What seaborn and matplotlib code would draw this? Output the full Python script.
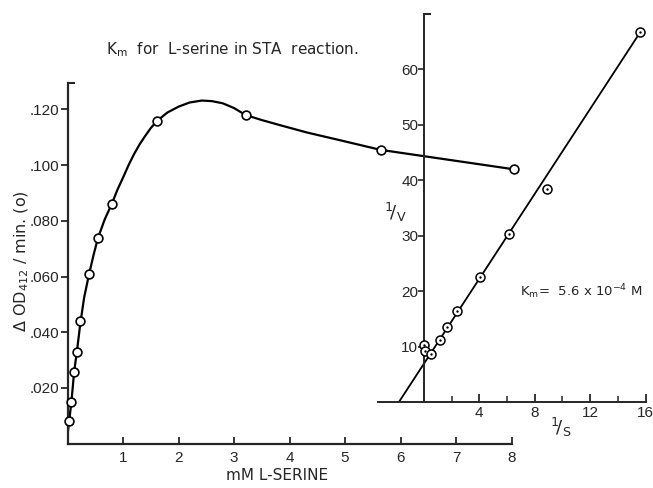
import matplotlib
matplotlib.use("Agg")
import matplotlib.pyplot as plt
import seaborn as sns
import pandas as pd

# ---- data ----
# main plot: substrate (mM L-serine) vs rate (dOD412/min)
serine_mM = [0.03, 0.07, 0.12, 0.17, 0.23, 0.39, 0.55, 0.80, 1.62, 3.21, 5.64, 8.05]
rate = [0.0082, 0.0149, 0.0259, 0.0330, 0.0442, 0.0610, 0.0739, 0.0862, 0.1160, 0.1180, 0.1055, 0.0985]

# hand-drawn smooth curve
curve_x = [0.0, 0.03, 0.07, 0.12, 0.17, 0.23, 0.30, 0.39, 0.47, 0.55, 0.67, 0.80, 0.90, 1.00, 1.10,
           1.20, 1.30, 1.40, 1.50, 1.62, 1.80, 2.00, 2.20, 2.42, 2.60, 2.80, 3.00, 3.21, 3.50, 3.84,
           4.32, 4.90, 5.64, 8.05]
curve_y = [0.0030, 0.0082, 0.0149, 0.0259, 0.0332, 0.0430, 0.0525, 0.0610, 0.0678, 0.0739, 0.0805,
           0.0862, 0.0912, 0.0955, 0.1000, 0.1040, 0.1075, 0.1105, 0.1133, 0.1160, 0.1189, 0.1210,
           0.1225, 0.1232, 0.1230, 0.1222, 0.1205, 0.1180, 0.1162, 0.1143, 0.1117, 0.1090, 0.1055,
           0.0985]

# Lineweaver-Burk inset: 1/S vs 1/V
inv_s = [0.0, 0.1, 0.5, 1.16, 1.68, 2.43, 4.07, 6.15, 8.9, 15.6]
inv_v = [10.3, 9.3, 8.7, 11.3, 13.5, 16.4, 22.6, 30.3, 38.5, 66.7]
fit_x = [-1.8, 15.6]
fit_y = [0.0, 66.7]

main_xticks = [1, 2, 3, 4, 5, 6, 7, 8]
main_yticks = [0.020, 0.040, 0.060, 0.080, 0.100, 0.120]
main_ylabels = [".020", ".040", ".060", ".080", ".100", ".120"]
inset_xticks = [4, 8, 12, 16]
inset_xminor = [2, 6, 10, 14]
inset_yticks = [10, 20, 30, 40, 50, 60]

sns.set_style("ticks")
FONT = "Liberation Sans"
WIDE = "DejaVu Sans"
plt.rcParams["font.family"] = [FONT, "DejaVu Sans"]
plt.rcParams["mathtext.fontset"] = "custom"
plt.rcParams["mathtext.rm"] = WIDE
plt.rcParams["mathtext.it"] = WIDE
plt.rcParams["mathtext.sf"] = WIDE

W, H = 653, 488
fig = plt.figure(figsize=(W / 100, H / 100), dpi=100)
fig.patch.set_facecolor("white")

# main axes
ax = fig.add_axes([67.5 / W, (H - 443.7) / H, (511.5 - 67.5) / W, (443.7 - 83) / H])
ax.set_facecolor("none")
df_curve = pd.DataFrame({"x": curve_x, "y": curve_y})
sns.lineplot(data=df_curve, x="x", y="y", sort=False, color="black", linewidth=1.6, ax=ax)
df_pts = pd.DataFrame({"x": serine_mM, "y": rate})
sns.scatterplot(data=df_pts, x="x", y="y", s=40, facecolor="white", edgecolor="black",
                linewidth=1.2, ax=ax, zorder=5, clip_on=False)
ax.set_xlim(0, 8)
ax.set_ylim(0, 0.1295)
ax.set_xticks(main_xticks)
ax.set_xticklabels([str(t) for t in main_xticks])
ax.set_yticks(main_yticks)
ax.set_yticklabels(main_ylabels)
ax.set_yticks([0.1295], minor=True)
ax.tick_params(axis="x", direction="in", length=5, width=1.3, pad=5, labelsize=11)
ax.tick_params(axis="y", direction="out", length=5, width=1.3, pad=1, labelsize=11)
ax.tick_params(axis="y", which="minor", direction="in", length=5, width=1.5)
ax.set_xlabel("")
ax.set_ylabel("")
for s in ["top", "right"]:
    ax.spines[s].set_visible(False)
for s in ["left", "bottom"]:
    ax.spines[s].set_linewidth(1.6)

# inset axes (Lineweaver-Burk)
ai = fig.add_axes([378 / W, (H - 402.2) / H, (645.7 - 378) / W, (402.2 - 14) / H])
ai.set_facecolor("none")
df_fit = pd.DataFrame({"x": fit_x, "y": fit_y})
sns.lineplot(data=df_fit, x="x", y="y", color="black", linewidth=1.3, ax=ai)
df_lb = pd.DataFrame({"x": inv_s, "y": inv_v})
sns.scatterplot(data=df_lb, x="x", y="y", s=42, facecolor="white", edgecolor="black",
                linewidth=1.1, ax=ai, zorder=5, clip_on=False)
sns.scatterplot(data=df_lb, x="x", y="y", s=3, color="black", linewidth=0, ax=ai, zorder=6,
                clip_on=False)
ai.set_xlim(-3.3, 16)
ai.set_ylim(0, 70)
ai.spines["left"].set_position(("data", 0))
ai.spines["top"].set_visible(False)
ai.spines["right"].set_visible(False)
ai.spines["left"].set_linewidth(1.4)
ai.spines["bottom"].set_linewidth(1.4)
ai.set_xticks(inset_xticks)
ai.set_xticklabels([str(t) for t in inset_xticks])
ai.set_xticks(inset_xminor, minor=True)
ai.set_yticks(inset_yticks)
ai.set_yticklabels([str(t) for t in inset_yticks])
ai.set_yticks([70], minor=True)
ai.tick_params(axis="x", which="major", direction="in", length=6, width=1.3, pad=3, labelsize=11)
ai.tick_params(axis="x", which="minor", direction="in", length=4, width=1.1)
ai.tick_params(axis="y", which="major", direction="out", length=4, width=1.2, pad=0, labelsize=11)
ai.tick_params(axis="y", which="minor", direction="in", length=5, width=1.5)
ai.set_xlabel("")
ai.set_ylabel("")

# texts
fig.text(106 / W, 1 - 50 / H, r"K$_\mathrm{m}$  for  L-serine in STA  reaction.", ha="left", va="center",
         fontsize=11, family=[WIDE])
fig.text(520 / W, 1 - 292 / H, r"K$_\mathrm{m}$=  5.6 x 10$^{-4}$ M", ha="left", va="center",
         fontsize=9.5, family=[WIDE])
fig.text(22 / W, 1 - 261 / H, r"$\Delta$ OD$_{412}$ / min. (o)", ha="center", va="center",
         rotation=90, fontsize=11.5, family=[WIDE])
fig.text(277 / W, 1 - 476 / H, "mM L-SERINE", ha="center", va="center", fontsize=11, family=[WIDE])
fig.text(395 / W, 1 - 212 / H, r"$^{1}\!/_{\mathrm{V}}$", ha="center", va="center", fontsize=13)
fig.text(561 / W, 1 - 427 / H, r"$^{1}\!/_{\mathrm{S}}$", ha="center", va="center", fontsize=13)

fig.savefig("out.png", dpi=100, facecolor="white")
